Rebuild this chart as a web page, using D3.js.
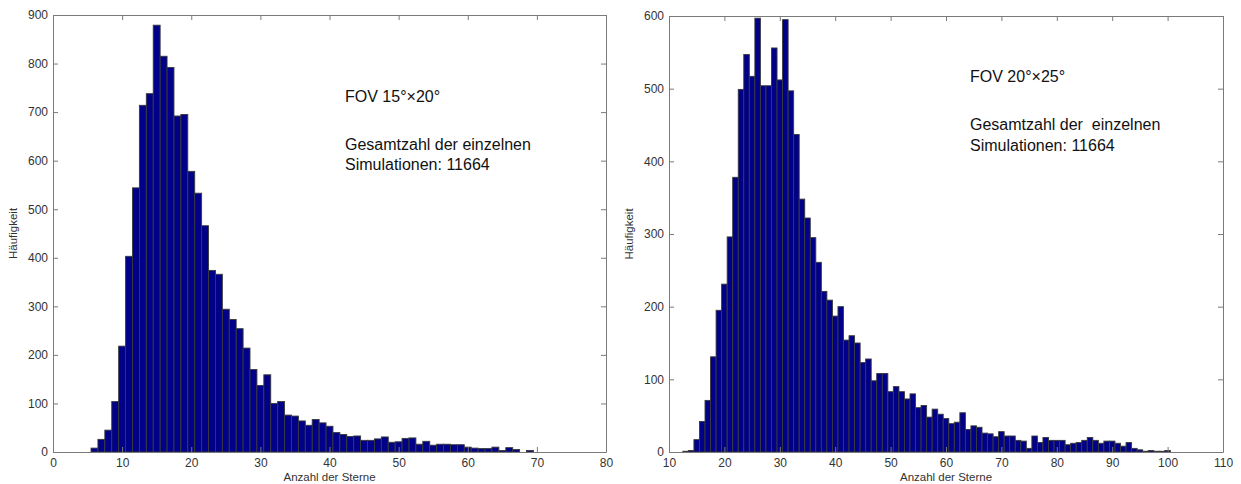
<!DOCTYPE html>
<html>
<head>
<meta charset="utf-8">
<script src="https://cdn.jsdelivr.net/npm/d3@7"></script>
<style>
  html, body { margin: 0; padding: 0; background: #fff; }
  svg { display: block; font-family: "Liberation Sans", Arial, sans-serif; }
</style>
</head>
<body>
<svg id="chart" width="1241" height="484"></svg>
<script>
// Histogram of star counts per field of view, FOV 15°×20°
const starsA = [6,7,8,9,10,11,12,13,14,15,16,17,18,19,20,21,22,23,24,25,26,27,28,29,30,31,32,33,34,35,36,37,38,39,40,41,42,43,44,45,46,47,48,49,50,51,52,53,54,55,56,57,58,59,60,61,62,63,64,65,66,67,68,69];
const countsA = [8,26,45,104,218,403,544,714,738,879,815,792,692,695,578,533,466,374,366,294,273,254,214,170,137,159,100,104,76,74,64,55,67,60,53,40,36,32,33,24,24,27,31,20,21,28,29,16,22,14,16,16,15,15,10,8,7,7,10,3,9,5,0,3];
const xTicksA = [0,10,20,30,40,50,60,70,80];
const yTicksA = [0,100,200,300,400,500,600,700,800,900];

// Histogram of star counts per field of view, FOV 20°×25°
const starsB = [13,14,15,16,17,18,19,20,21,22,23,24,25,26,27,28,29,30,31,32,33,34,35,36,37,38,39,40,41,42,43,44,45,46,47,48,49,50,51,52,53,54,55,56,57,58,59,60,61,62,63,64,65,66,67,68,69,70,71,72,73,74,75,76,77,78,79,80,81,82,83,84,85,86,87,88,89,90,91,92,93,94,95,96,97,98,99,100];
const countsB = [1,2,17,42,71,131,195,231,296,378,499,547,517,597,504,504,556,512,595,497,437,348,322,295,261,221,209,187,200,154,160,150,123,128,98,108,108,83,90,83,73,80,61,64,48,59,52,46,39,41,54,31,36,34,26,25,21,28,22,22,16,15,5,22,13,20,16,16,16,10,12,13,16,20,16,12,15,15,12,8,13,5,3,1,2,1,1,2];
const xTicksB = [10,20,30,40,50,60,70,80,90,100,110];
const yTicksB = [0,100,200,300,400,500,600];

const xLabel = "Anzahl der Sterne";
const yLabel = "Häufigkeit";
const notesA = ["FOV 15°×20°", "Gesamtzahl der einzelnen", "Simulationen: 11664"];
const notesB = ["FOV 20°×25°", "Gesamtzahl der  einzelnen", "Simulationen: 11664"];

const svg = d3.select("#chart");
const FRAME = "#7a7a7a";
const TEXT = "#333";
const BAR = "#000088";

function panel(opts) {
  const { left, top, width, height, stars, counts, xDomain, yDomain, xTicks, yTicks, notes, noteX, noteYs } = opts;
  const g = svg.append("g").attr("transform", `translate(${left},${top})`);
  const x = d3.scaleLinear().domain(xDomain).range([0, width]);
  const y = d3.scaleLinear().domain(yDomain).range([height, 0]);
  const bw = x(1) - x(0);

  // one bar per star count, touching neighbours
  g.append("g").selectAll("rect")
    .data(stars.map((s, i) => ({ s, c: counts[i] })).filter(d => d.c > 0))
    .join("rect")
    .attr("x", d => x(d.s) - bw / 2)
    .attr("width", bw)
    .attr("y", d => y(d.c))
    .attr("height", d => y(0) - y(d.c))
    .attr("fill", BAR)
    .attr("stroke", "#3a3a3a")
    .attr("stroke-width", 0.9);

  const styleAxis = (sel, showLabels) => {
    sel.select(".domain").attr("stroke", FRAME);
    sel.selectAll(".tick line").attr("stroke", FRAME);
    sel.selectAll(".tick text")
      .attr("fill", TEXT)
      .style("font-size", "12px")
      .style("display", showLabels ? null : "none");
  };

  // bottom / left carry labels; top / right close the box with inward ticks
  g.append("g").attr("transform", `translate(0,${height})`)
    .call(d3.axisBottom(x).tickValues(xTicks).tickSize(-5).tickPadding(6).tickSizeOuter(0))
    .call(s => styleAxis(s, true));
  g.append("g")
    .call(d3.axisTop(x).tickValues(xTicks).tickSize(-5).tickSizeOuter(0))
    .call(s => styleAxis(s, false));
  g.append("g")
    .call(d3.axisLeft(y).tickValues(yTicks).tickSize(-5).tickPadding(5).tickSizeOuter(0))
    .call(s => styleAxis(s, true));
  g.append("g").attr("transform", `translate(${width},0)`)
    .call(d3.axisRight(y).tickValues(yTicks).tickSize(-5).tickSizeOuter(0))
    .call(s => styleAxis(s, false));

  // axis titles
  g.append("text")
    .attr("x", width / 2).attr("y", height + 29)
    .attr("text-anchor", "middle")
    .attr("fill", TEXT).style("font-size", "11.5px")
    .text(xLabel);
  g.append("text")
    .attr("transform", `translate(-36,${height / 2}) rotate(-90)`)
    .attr("text-anchor", "middle")
    .attr("fill", TEXT).style("font-size", "11.5px")
    .text(yLabel);

  // annotation block
  notes.forEach((line, i) => {
    g.append("text")
      .attr("x", noteX).attr("y", noteYs[i])
      .attr("xml:space", "preserve")
      .attr("fill", "#111").style("font-size", "16px")
      .text(line);
  });
}

panel({
  left: 53, top: 15, width: 553, height: 437,
  stars: starsA, counts: countsA,
  xDomain: [0, 80], yDomain: [0, 900],
  xTicks: xTicksA, yTicks: yTicksA,
  notes: notesA, noteX: 292, noteYs: [87, 135, 155]
});

panel({
  left: 669, top: 16, width: 554, height: 436,
  stars: starsB, counts: countsB,
  xDomain: [10, 110], yDomain: [0, 600],
  xTicks: xTicksB, yTicks: yTicksB,
  notes: notesB, noteX: 301, noteYs: [66, 114, 135]
});
</script>
</body>
</html>
